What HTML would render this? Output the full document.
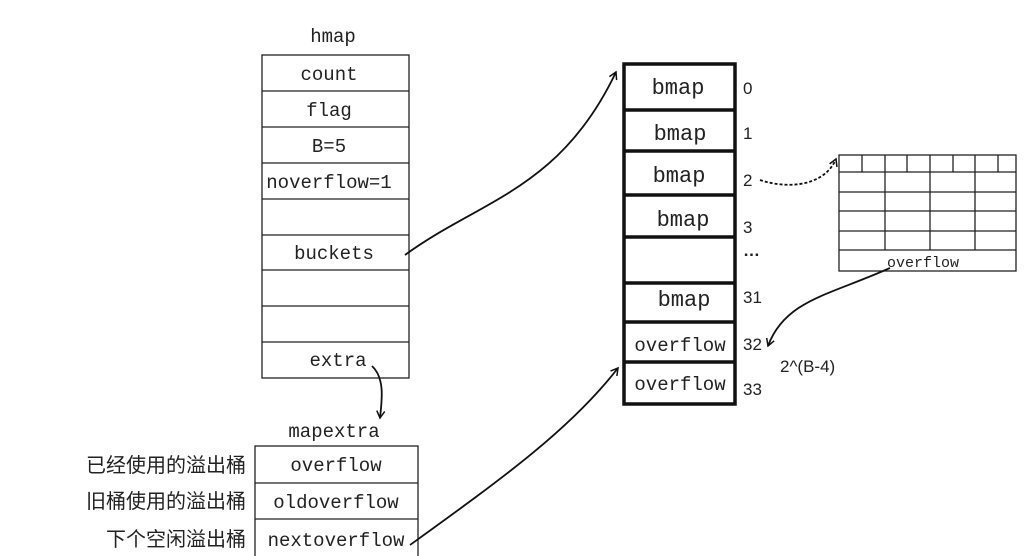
<!DOCTYPE html>
<html><head><meta charset="utf-8"><style>
html,body{margin:0;padding:0;background:#fff;width:1024px;height:556px;overflow:hidden}
svg text{font-family:"Liberation Mono",monospace;fill:#222}
svg .cn text{font-family:"Liberation Sans","Noto Sans CJK SC",sans-serif}
svg .sn text{font-family:"Liberation Sans",sans-serif}
</style></head><body>
<svg width="1024" height="556" viewBox="0 0 1024 556" xmlns="http://www.w3.org/2000/svg">
<defs><marker id="ah" markerWidth="10" markerHeight="10" refX="8" refY="5" orient="auto" markerUnits="userSpaceOnUse"><path d="M1,1 L8,5 L1,9" fill="none" stroke="#111" stroke-width="1.5"/></marker></defs>
<g stroke="#222" stroke-width="1.3" fill="none">
<rect x="262" y="55" width="147" height="323"/>
<line x1="262" y1="91" x2="409" y2="91"/><line x1="262" y1="127" x2="409" y2="127"/>
<line x1="262" y1="163" x2="409" y2="163"/><line x1="262" y1="199" x2="409" y2="199"/>
<line x1="262" y1="235" x2="409" y2="235"/><line x1="262" y1="270" x2="409" y2="270"/>
<line x1="262" y1="306" x2="409" y2="306"/><line x1="262" y1="342" x2="409" y2="342"/>
<rect x="255" y="446" width="163" height="120"/>
<line x1="255" y1="483" x2="418" y2="483"/><line x1="255" y1="519" x2="418" y2="519"/>
<rect x="839" y="155" width="177" height="116"/>
<line x1="839" y1="172" x2="1016" y2="172"/><line x1="839" y1="192" x2="1016" y2="192"/>
<line x1="839" y1="211" x2="1016" y2="211"/><line x1="839" y1="231" x2="1016" y2="231"/>
<line x1="839" y1="250" x2="1016" y2="250"/>
<line x1="862" y1="155" x2="862" y2="172"/><line x1="885" y1="155" x2="885" y2="172"/>
<line x1="907" y1="155" x2="907" y2="172"/><line x1="930" y1="155" x2="930" y2="172"/>
<line x1="953" y1="155" x2="953" y2="172"/><line x1="975" y1="155" x2="975" y2="172"/>
<line x1="998" y1="155" x2="998" y2="172"/>
<line x1="885" y1="172" x2="885" y2="250"/><line x1="930" y1="172" x2="930" y2="250"/><line x1="975" y1="172" x2="975" y2="250"/>
</g>
<g stroke="#111" stroke-width="3.5" fill="none">
<rect x="624" y="64" width="111" height="340"/>
<line x1="624" y1="110" x2="735" y2="110"/><line x1="624" y1="151" x2="735" y2="151"/>
<line x1="624" y1="195" x2="735" y2="195"/><line x1="624" y1="237" x2="735" y2="237"/>
<line x1="624" y1="283" x2="735" y2="283"/><line x1="624" y1="322" x2="735" y2="322"/>
<line x1="624" y1="362" x2="735" y2="362"/>
</g>
<g font-size="19" text-anchor="middle">
<text x="333" y="42">hmap</text>
<text x="329" y="80">count</text><text x="329" y="116">flag</text>
<text x="329" y="152">B=5</text><text x="329" y="188">noverflow=1</text>
<text x="334" y="259">buckets</text><text x="338" y="366">extra</text>
<text x="334" y="437">mapextra</text>
<text x="336" y="471">overflow</text><text x="336" y="508">oldoverflow</text><text x="336" y="546">nextoverflow</text>
<text x="678" y="94" font-size="22">bmap</text><text x="680" y="140" font-size="22">bmap</text>
<text x="679" y="182" font-size="22">bmap</text><text x="683" y="226" font-size="22">bmap</text>
<text x="684" y="306" font-size="22">bmap</text>
<text x="680" y="351">overflow</text><text x="680" y="390">overflow</text>
<text x="923" y="267" font-size="15">overflow</text>
</g>
<g font-size="17" class="sn">
<text x="743" y="94">0</text><text x="743" y="139">1</text><text x="743" y="186">2</text>
<text x="743" y="233">3</text><text x="743" y="256" font-weight="bold">…</text>
<text x="743" y="303">31</text><text x="743" y="350">32</text><text x="743" y="395">33</text>
<text x="780" y="372">2^(B-4)</text>
</g>
<g font-size="20" class="cn" text-anchor="end">
<text x="246" y="472">已经使用的溢出桶</text><text x="246" y="508">旧桶使用的溢出桶</text><text x="246" y="546">下个空闲溢出桶</text>
</g>
<g stroke="#111" stroke-width="1.8" fill="none">
<path d="M405,255 C480,200 560,190 616,72" marker-end="url(#ah)"/>
<path d="M372,366 C385,378 382,400 380,418" marker-end="url(#ah)"/>
<path d="M410,545 C500,480 570,430 618,368" marker-end="url(#ah)"/>
<path d="M760,180 C790,190 825,185 836,159" stroke-dasharray="3,2" marker-end="url(#ah)"/>
<path d="M890,268 C830,295 785,300 768,346" marker-end="url(#ah)"/>
</g>
</svg>
</body></html>
